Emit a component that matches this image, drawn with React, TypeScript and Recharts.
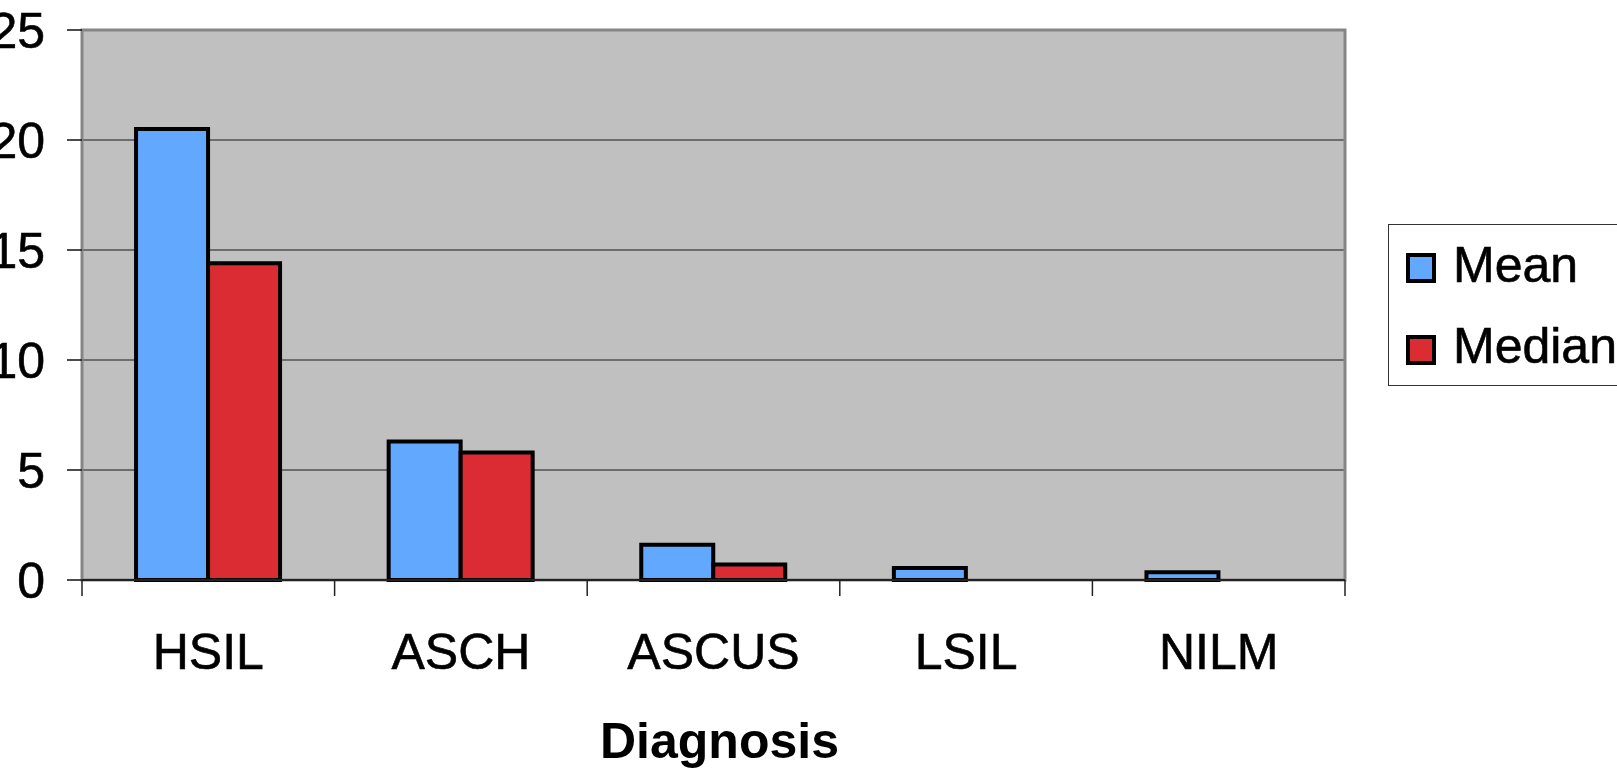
import React from 'react';
import { BarChart, Bar, XAxis, YAxis, CartesianGrid, Legend, ReferenceArea, Label } from 'recharts';

// Diagnosis categories and the two summary series
const categories = ['HSIL', 'ASCH', 'ASCUS', 'LSIL', 'NILM'];
const meanValues = [20.5, 6.3, 1.6, 0.55, 0.35];
const medianValues = [14.4, 5.8, 0.7, 0, 0];
const yTicks = [0, 5, 10, 15, 20, 25];

const MEAN_COLOR = '#63A8FF';
const MEDIAN_COLOR = '#DC2C33';

const data = categories.map((diagnosis, i) => ({
  diagnosis,
  Mean: meanValues[i],
  Median: medianValues[i],
}));

const W = 1617;
const H = 769;
const MARGIN = { top: 30, right: 272, bottom: 0, left: 0 };
const Y_AXIS_W = 82;
const X_AXIS_H = 189;
const PLOT_W = W - MARGIN.left - MARGIN.right - Y_AXIS_W;
const FONT = '"Liberation Sans", Arial, Helvetica, sans-serif';

// Category label centred in its band, with tick marks on the band boundaries
const CategoryTick = (props: any) => {
  const { x, y, payload, index } = props;
  const half = PLOT_W / categories.length / 2;
  return (
    <g>
      <line x1={x - half} x2={x - half} y1={y} y2={y + 16} stroke="#222" strokeWidth={1.5} />
      {index === categories.length - 1 && (
        <line x1={x + half} x2={x + half} y1={y} y2={y + 16} stroke="#222" strokeWidth={1.5} />
      )}
      <text
        x={x}
        y={y + 89}
        textAnchor="middle"
        fontSize={50}
        fill="#000"
        stroke="#000"
        strokeWidth={0.6}
        fontFamily={FONT}
      >
        {payload.value}
      </text>
    </g>
  );
};

const AxisTitle = (props: any) => {
  const vb = props.viewBox || {};
  return (
    <text
      x={vb.x + vb.width / 2 + 6}
      y={vb.y + 178}
      textAnchor="middle"
      fontSize={50}
      fontWeight="bold"
      fill="#000"
      fontFamily={FONT}
    >
      Diagnosis
    </text>
  );
};

const LegendBox = (props: any) => {
  const items = props.payload || [];
  return (
    <svg width={240} height={163} style={{ display: 'block' }}>
      <rect x={0.5} y={0.5} width={270} height={161} fill="#fff" stroke="#333" strokeWidth={1} />
      {items.map((it: any, i: number) => (
        <g key={it.value}>
          <rect x={20} y={31} width={26} height={26} transform={`translate(0, ${i * 82})`} fill={it.color} stroke="#000" strokeWidth={4} />
          <text
            x={65}
            y={58 + i * 81}
            fontSize={50}
            fill="#000"
            stroke="#000"
            strokeWidth={0.6}
            fontFamily={FONT}
          >
            {it.value}
          </text>
        </g>
      ))}
    </svg>
  );
};

export default function App() {
  return (
    <div
      style={{
        position: 'absolute',
        left: 0,
        top: 0,
        width: W,
        height: H,
        overflow: 'hidden',
        background: '#fff',
        fontFamily: FONT,
      }}
    >
      <BarChart
        width={W}
        height={H}
        data={data}
        margin={MARGIN}
        barCategoryGap="21.4%"
        barGap={0}
        style={{ fontFamily: FONT }}
      >
        <CartesianGrid vertical={false} horizontal stroke="#1a1a1a" strokeWidth={1} fill="#C0C0C0" fillOpacity={1} />
        <ReferenceArea
          x1="HSIL"
          x2="NILM"
          y1={0}
          y2={25}
          fill="none"
          fillOpacity={0}
          stroke="#858585"
          strokeWidth={3}
          ifOverflow="visible"
        />
        <XAxis
          dataKey="diagnosis"
          height={X_AXIS_H}
          axisLine={{ stroke: '#222', strokeWidth: 2 }}
          tickLine={false}
          tickSize={0}
          tickMargin={0}
          interval={0}
          tick={<CategoryTick />}
        >
          <Label content={<AxisTitle />} />
        </XAxis>
        <YAxis
          width={Y_AXIS_W}
          domain={[0, 25]}
          ticks={yTicks}
          interval={0}
          axisLine={false}
          tickLine={{ stroke: '#111', strokeWidth: 1.5 }}
          tickSize={15}
          tickMargin={22}
          tick={{ fontSize: 50, fill: '#000', stroke: '#000', strokeWidth: 0.6, fontFamily: FONT }}
        />
        <Legend
          layout="vertical"
          align="center"
          verticalAlign="middle"
          content={<LegendBox />}
          wrapperStyle={{ left: 1388, top: 224, width: 240, height: 163 }}
        />
        <Bar dataKey="Mean" name="Mean" fill={MEAN_COLOR} stroke="#000" strokeWidth={4} isAnimationActive={false} />
        <Bar dataKey="Median" name="Median" fill={MEDIAN_COLOR} stroke="#000" strokeWidth={4} isAnimationActive={false} />
      </BarChart>
    </div>
  );
}
